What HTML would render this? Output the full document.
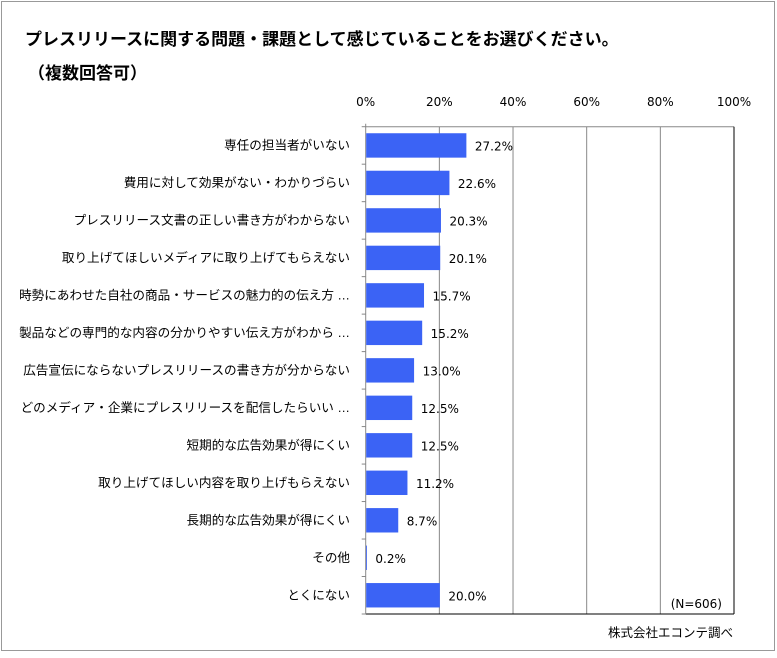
<!DOCTYPE html>
<html><head><meta charset="utf-8">
<style>
html,body{margin:0;padding:0;background:#fff;}
body{width:777px;height:653px;overflow:hidden;font-family:"Liberation Sans","Noto Sans CJK JP",sans-serif;}
svg text{font-family:"Liberation Sans","Noto Sans CJK JP",sans-serif;}
svg text.num{font-family:"DejaVu Sans","Noto Sans CJK JP",sans-serif;}
</style></head>
<body>
<svg id="chart" width="777" height="653" xmlns="http://www.w3.org/2000/svg">
<rect x="1.5" y="1.5" width="773" height="649" fill="#fff" stroke="#999"/>
<text x="25" y="45" font-size="17" font-weight="bold" fill="#000">プレスリリースに関する問題・課題として感じていることをお選びください。</text>
<text x="28" y="79" font-size="17" font-weight="bold" fill="#000">（複数回答可）</text>
<text class="num" x="722" y="608" font-size="12" text-anchor="end" fill="#000">(N=606)</text>
<text x="733" y="637" font-size="12.5" text-anchor="end" fill="#000">株式会社エコンテ調べ</text>
<g id="plot"></g>
</svg>
<script>
const categories = ["専任の担当者がいない","費用に対して効果がない・わかりづらい","プレスリリース文書の正しい書き方がわからない","取り上げてほしいメディアに取り上げてもらえない","時勢にあわせた自社の商品・サービスの魅力的の伝え方 …","製品などの専門的な内容の分かりやすい伝え方がわから …","広告宣伝にならないプレスリリースの書き方が分からない","どのメディア・企業にプレスリリースを配信したらいい …","短期的な広告効果が得にくい","取り上げてほしい内容を取り上げもらえない","長期的な広告効果が得にくい","その他","とくにない"];
const values = [27.2,22.6,20.3,20.1,15.7,15.2,13.0,12.5,12.5,11.2,8.7,0.2,20.0];
const ticks = [0,20,40,60,80,100];

const NS="http://www.w3.org/2000/svg";
const g=document.getElementById('plot');
const L=365.7,R=734,T=126.7,B=614;
const x=v=>L+(R-L)*v/100;
const rowH=(B-T)/categories.length;
const y=i=>T+rowH*i;
function mk(tag,attrs){const e=document.createElementNS(NS,tag);for(const k in attrs)e.setAttribute(k,attrs[k]);g.appendChild(e);return e;}

ticks.forEach((t,i)=>{
  if(t>0&&t<100){const l=mk('line',{x1:x(t),x2:x(t),y1:T,y2:B,stroke:'#888','stroke-width':1});
  
  }
  const tx=mk('text',{x:x(t),y:106,'font-size':12,'text-anchor':'middle',fill:'#000',class:'num'});
  tx.textContent=t+'%';
  
  
});
const tb=mk('line',{x1:L,x2:R,y1:T,y2:T,stroke:'#888'});


const rb=mk('line',{x1:R,x2:R,y1:T,y2:B,stroke:'#000'});


const bb=mk('line',{x1:L,x2:R,y1:B,y2:B,stroke:'#000'});


const ax=mk('line',{x1:L,x2:L,y1:T-3,y2:B,stroke:'#888'});


for(let i=0;i<=categories.length;i++){
  const tk=mk('line',{x1:L-4,x2:L,y1:y(i),y2:y(i),stroke:'#888'});
  
  
}
categories.forEach((c,i)=>{
  const cy=y(i)+rowH/2;
  const bar=mk('rect',{x:L+0.5,y:cy-12.2,width:Math.max(x(values[i])-L,0.8),height:24.4,fill:'#3b63f5'});
  
  
  const lb=mk('text',{x:350,y:cy+4,'font-size':12.6,'text-anchor':'end',fill:'#000'});
  lb.textContent=c;
  
  
  const vl=mk('text',{x:x(values[i])+9,y:cy+5,'font-size':12,fill:'#000',class:'num'});
  vl.textContent=values[i].toFixed(1)+'%';
  
  
});
</script>
</body></html>
